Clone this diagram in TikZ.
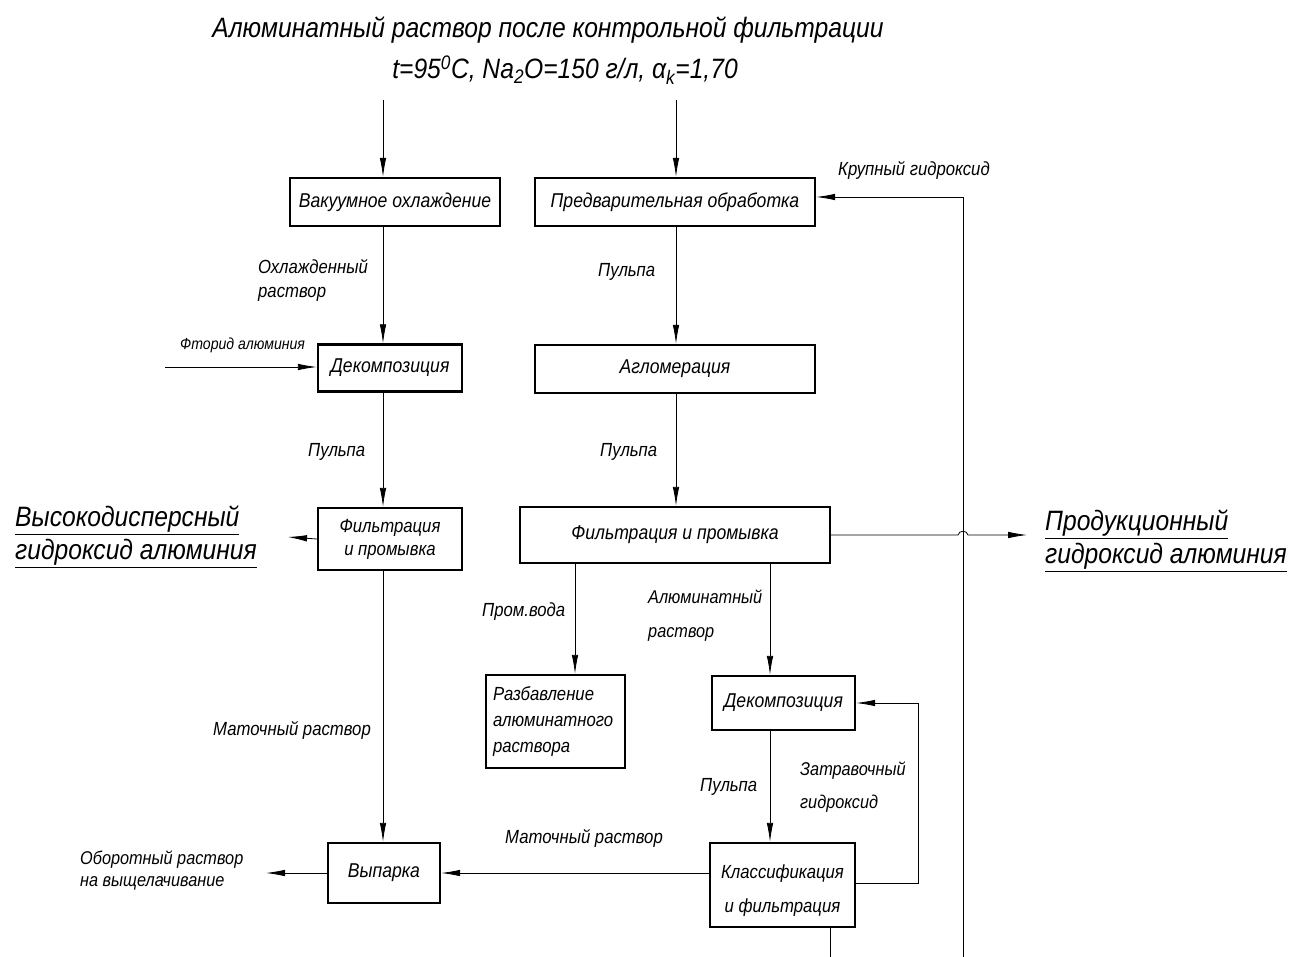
\documentclass[tikz,border=0pt]{standalone}
\usepackage{fontspec}
\setmainfont{Liberation Sans}[FakeStretch=0.88]
\usetikzlibrary{arrows.meta}
\begin{document}
\begin{tikzpicture}[x=1pt,y=-1pt,
  every node/.style={font=\itshape\fontsize{19}{23}\selectfont, inner sep=0pt},
  box/.style={draw, line width=2.3pt, align=center, font=\itshape\fontsize{20}{24}\selectfont},
  flow/.style={line width=0.8pt, -{Latex[length=19pt,width=6.5pt]}},
  plain/.style={line width=0.8pt},
  lbl/.style={anchor=west, align=left},
  big/.style={font=\itshape\fontsize{28}{33}\selectfont, align=left, anchor=west}]
\useasboundingbox (0,0) rectangle (1291,957);

% headline
\node[font=\itshape\fontsize{28}{34}\selectfont] (head1) at (548,30) {Алюминатный раствор после контрольной фильтрации};
\node[font=\itshape\fontsize{28}{34}\selectfont] (head2) at (565,70) {t=95\textsuperscript{0}C, Na\textsubscript{2}O=150 г/л, α\textsubscript{k}=1,70};
\coordinate (inL) at (383,100);
\coordinate (inR) at (676,100);

% process boxes
\node[box, minimum width=210pt, minimum height=48pt] (vac) at (395,202) {Вакуумное охлаждение};
\node[box, minimum width=280pt, minimum height=48pt] (pre) at (675,202) {Предварительная обработка};
\node[box, minimum width=144pt, minimum height=47pt] (decL) at (390,368) {Декомпозиция};
\node[box, minimum width=280pt, minimum height=48pt] (agl) at (675,369) {Агломерация};
\node[box, minimum width=144pt, minimum height=62pt, font=\itshape\fontsize{19}{23}\selectfont] (filL) at (390,539) {Фильтрация\\и промывка};
\node[box, minimum width=310pt, minimum height=56pt] (filR) at (675,535) {Фильтрация и промывка};
\node[box, minimum width=139pt, minimum height=93pt, align=left, text width=125pt,
      font=\itshape\fontsize{19}{26}\selectfont] (dil) at (555.5,721.5) {Разбавление\\алюминатного\\раствора};
\node[box, minimum width=143pt, minimum height=54pt] (decR) at (783.5,703) {Декомпозиция};
\node[box, minimum width=112pt, minimum height=60pt] (evap) at (384,873) {Выпарка};
\node[box, minimum width=145pt, minimum height=84pt, font=\itshape\fontsize{19}{34}\selectfont] (cls) at (782.5,885) {\rule{0pt}{24pt}Классификация\\и фильтрация};

% outputs
\node[big] (outL) at (15,537) {\underline{Высокодисперсный}\\\underline{гидроксид алюминия}};
\node[big] (outR) at (1045,541) {\underline{Продукционный}\\\underline{гидроксид алюминия}};
\node[lbl, font=\itshape\fontsize{18.5}{22}\selectfont] (ret) at (80,871) {Оборотный раствор\\на выщелачивание};

% stream labels
\node[lbl, font=\itshape\fontsize{19}{24}\selectfont] (l1) at (258,280) {Охлажденный\\раствор};
\node[lbl] (l2) at (598,272) {Пульпа};
\node[lbl, font=\itshape\fontsize{16}{20}\selectfont] (l3) at (180,345) {Фторид алюминия};
\node[lbl] (l4) at (308,452) {Пульпа};
\node[lbl] (l5) at (600,452) {Пульпа};
\node[lbl] (l6) at (482,612) {Пром.вода};
\node[lbl, font=\itshape\fontsize{18.5}{34}\selectfont] (l7) at (648,616) {Алюминатный\\раствор};
\node[lbl] (l8) at (213,730) {Маточный раствор};
\node[lbl] (l9) at (700,787) {Пульпа};
\node[lbl, font=\itshape\fontsize{18.5}{33}\selectfont] (l10) at (800,787) {Затравочный\\гидроксид};
\node[lbl] (l11) at (505,838) {Маточный раствор};
\node[lbl] (l12) at (838,170) {Крупный гидроксид};

% helper points
\coordinate (fIn) at (165,367);
\coordinate (outLp) at (288,537);
\coordinate (outRp) at (1027,535);
\coordinate (retp) at (266,873);
\coordinate (loopR) at (918,703);
\coordinate (coarse) at (963,197);
\coordinate (edge1) at (830,957);
\coordinate (edge2) at (963,957);

% connectors
\draw[flow] (inL) -- (inL |- vac.north);
\draw[flow] (inR) -- (inR |- pre.north);
\draw[flow] (vac.south -| inL) -- (inL |- decL.north);
\draw[flow] (pre.south -| inR) -- (inR |- agl.north);
\draw[flow] (fIn) -- (fIn -| decL.west);
\draw[flow] (decL.south -| inL) -- (inL |- filL.north);
\draw[flow] (agl.south -| inR) -- (inR |- filR.north);
\draw[flow] (filL.west) -- (outLp);
\draw[flow] (filL.south -| inL) -- (inL |- evap.north);
\draw[flow] (filR.east) -- (958,535) .. controls (959,530) and (967,530) .. (968,535) -- (outRp);
\draw[flow] (filR.south -| 575,0) -- (575,0 |- dil.north);
\draw[flow] (filR.south -| 770,0) -- (770,0 |- decR.north);
\draw[flow] (decR.south -| 770,0) -- (770,0 |- cls.north);
\draw[flow] (cls.east |- 0,883) -- (918,883) -- (loopR) -- (decR.east);
\draw[flow] (cls.west |- evap) -- (evap.east);
\draw[flow] (evap.west) -- (retp);
\draw[plain] (cls.south -| edge1) -- (edge1);
\draw[flow] (edge2) -- (coarse) -- (coarse -| pre.east);
\end{tikzpicture}
\end{document}
